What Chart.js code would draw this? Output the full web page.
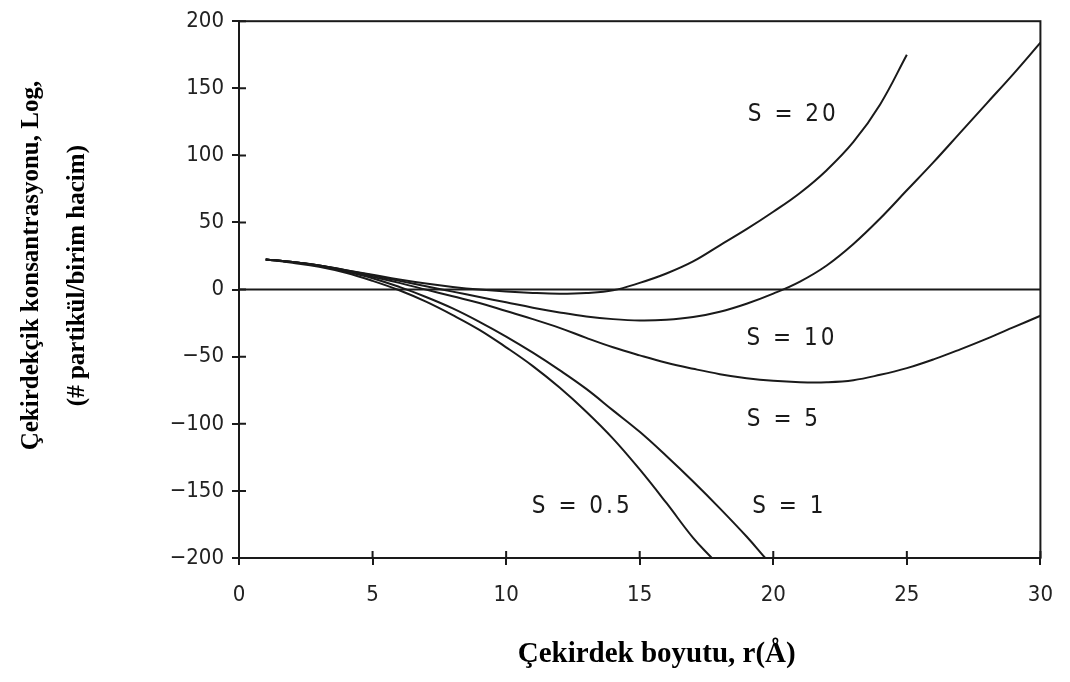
<!DOCTYPE html>
<html>
<head>
<meta charset="utf-8">
<script src="https://cdn.jsdelivr.net/npm/chart.js@4"></script>
<style>
  body { margin: 0; background: #fff; }
</style>
</head>
<body>
<canvas id="myChart" width="1070" height="682"></canvas>
<script>
// values
var r = [1, 2, 3, 4, 5, 6, 7, 8, 9, 10, 11, 12, 13, 14, 15, 16, 17, 18, 19, 20, 21, 22, 23, 24, 25, 26, 27, 28, 29, 30];
var r05 = [1, 2, 3, 4, 5, 6, 7, 8, 9, 10, 11, 12, 13, 14, 15, 16, 17, 17.7];
var r1 = [1, 2, 3, 4, 5, 6, 7, 8, 9, 10, 11, 12, 13, 14, 15, 16, 17, 18, 19, 19.7];
var r20 = [1, 2, 3, 4, 5, 6, 7, 8, 9, 10, 11, 12, 13, 14, 15, 16, 17, 18, 19, 20, 21, 22, 23, 24, 25];

var s05 = [22.5, 20, 17, 12.5, 6.5, -0.5, -9, -19, -30, -43, -57, -73, -91, -111, -134, -159, -185, -200];
var s1 = [22.5, 20.5, 17.5, 13.5, 8.5, 2, -5.5, -14, -24, -35, -47, -60, -74, -90, -106, -124, -143, -163, -184, -200];
var s5 = [22.5, 20.5, 18, 14, 9.5, 5, 0, -5, -10, -16, -22, -28.5, -36, -43, -49, -54.5, -59, -63, -66, -68, -69, -69, -67.5, -63.5, -58.5, -52, -44.5, -36.5, -28, -19.5];
var s10 = [22.5, 20.5, 18, 14.5, 10.5, 6.5, 2.5, -1.5, -5.5, -9.5, -13.5, -17, -20, -22, -23, -22.5, -20.5, -16.5, -10.5, -3, 6, 18, 34, 53, 74, 95, 117, 139, 161, 184];
var s20 = [22.5, 20.5, 18, 14.5, 11, 7.5, 4.5, 2, 0, -1.5, -2.5, -3, -2.5, -0.5, 5, 12, 21, 33, 45, 58, 72, 89, 110, 138, 175];
var zeroX = [0, 30];
var zeroY = [0, 0];

var yTicks = [-200, -150, -100, -50, 0, 50, 100, 150, 200];
var xTicks = [0, 5, 10, 15, 20, 25, 30];

var curveLabels = [
  { text: "S = 20", x: 20.75, y: 130 },
  { text: "S = 10", x: 20.7, y: -37 },
  { text: "S = 5", x: 20.4, y: -97 },
  { text: "S = 1", x: 20.6, y: -162 },
  { text: "S = 0.5", x: 12.85, y: -162 },
];

var xTitle = "Çekirdek boyutu, r(Å)";
var yTitle1 = "Çekirdekçik konsantrasyonu, Log,";
var yTitle2 = "(# partikül/birim hacim)";

var sansFont = "'DejaVu Sans Condensed', 'Liberation Sans Narrow', 'Liberation Sans', sans-serif";
var serifFont = "'Liberation Serif', 'DejaVu Serif', serif";

const toPoints = (xs, ys) => xs.map((x, i) => ({ x: x, y: ys[i] }));

const curve = (label, xs, ys) => ({
  label: label,
  data: toPoints(xs, ys),
  borderColor: "#1a1a1a",
  borderWidth: 2,
  pointRadius: 0,
  tension: 0.4,
  fill: false,
});

// frame, inner half of the tick marks, curve labels and axis titles
const framePlugin = {
  id: "frame",
  afterDatasetsDraw(chart) {
    const { ctx, chartArea: a, scales } = chart;
    const x = scales.x;
    const y = scales.y;
    ctx.save();
    ctx.strokeStyle = "#1a1a1a";
    ctx.lineWidth = 2;
    ctx.strokeRect(a.left, a.top, a.right - a.left, a.bottom - a.top);
    ctx.beginPath();
    x.ticks.forEach((t) => {
      const px = x.getPixelForValue(t.value);
      ctx.moveTo(px, a.bottom);
      ctx.lineTo(px, a.bottom - 7);
    });
    y.ticks.forEach((t) => {
      const py = y.getPixelForValue(t.value);
      ctx.moveTo(a.left, py);
      ctx.lineTo(a.left + 7, py);
    });
    ctx.stroke();

    ctx.fillStyle = "#1a1a1a";
    ctx.font = "24px " + sansFont;
    ctx.letterSpacing = "3px";
    ctx.textAlign = "center";
    ctx.textBaseline = "middle";
    curveLabels.forEach((l) => {
      ctx.fillText(l.text, x.getPixelForValue(l.x), y.getPixelForValue(l.y));
    });
    ctx.letterSpacing = "0px";

    // axis titles
    ctx.fillStyle = "#000";
    ctx.font = "bold 29px " + serifFont;
    ctx.fillText(xTitle, (a.left + a.right) / 2 + 17, chart.height - 27);

    const midY = (a.top + a.bottom) / 2;
    ctx.font = "bold 25px " + serifFont;
    ctx.save();
    ctx.translate(32, midY - 24);
    ctx.rotate(-Math.PI / 2);
    ctx.fillText(yTitle1, 0, 0);
    ctx.restore();
    ctx.save();
    ctx.translate(78, midY - 14);
    ctx.rotate(-Math.PI / 2);
    ctx.fillText(yTitle2, 0, 0);
    ctx.restore();
    ctx.restore();
  },
};

const ctx = document.getElementById("myChart").getContext("2d");
new Chart(ctx, {
  type: "line",
  data: {
    datasets: [
      curve("zero", zeroX, zeroY),
      curve("S = 0.5", r05, s05),
      curve("S = 1", r1, s1),
      curve("S = 5", r, s5),
      curve("S = 10", r, s10),
      curve("S = 20", r20, s20),
    ],
  },
  options: {
    responsive: false,
    animation: false,
    layout: { padding: { left: 0, right: 27, top: 20, bottom: 0 } },
    plugins: {
      legend: { display: false },
      tooltip: { enabled: false },
    },
    scales: {
      x: {
        type: "linear",
        min: 0,
        max: 30,
        afterBuildTicks: (scale) => {
          scale.ticks = xTicks.map((v) => ({ value: v }));
        },
        afterFit: (scale) => {
          scale.height = 124;
        },
        grid: { drawOnChartArea: false, tickLength: 7, color: "#1a1a1a", lineWidth: 2 },
        border: { color: "#1a1a1a", width: 2 },
        ticks: {
          padding: 17,
          color: "#222",
          font: { family: sansFont, size: 22 },
        },
        title: { display: false },
      },
      y: {
        type: "linear",
        min: -200,
        max: 200,
        afterBuildTicks: (scale) => {
          scale.ticks = yTicks.map((v) => ({ value: v }));
        },
        afterFit: (scale) => {
          scale.width = 239;
        },
        grid: { drawOnChartArea: false, tickLength: 7, color: "#1a1a1a", lineWidth: 2 },
        border: { color: "#1a1a1a", width: 2 },
        ticks: {
          padding: 8,
          color: "#222",
          font: { family: sansFont, size: 22 },
          callback: (v) => String(v).replace("-", "\u2212"),
        },
        title: { display: false },
      },
    },
  },
  plugins: [framePlugin],
});
</script>
</body>
</html>
